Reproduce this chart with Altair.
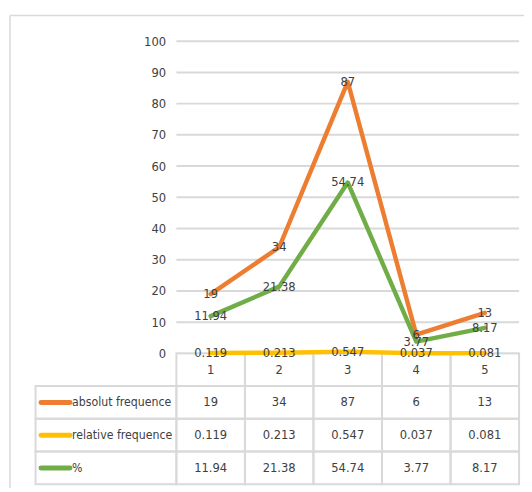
import altair as alt
import pandas as pd

# ---- data ----
categories = [1, 2, 3, 4, 5]
series_names = ["absolut frequence", "relative frequence", "%"]
absolut = [19, 34, 87, 6, 13]
relative = [0.119, 0.213, 0.547, 0.037, 0.081]
percent = [11.94, 21.38, 54.74, 3.77, 8.17]
y_ticks = [0, 10, 20, 30, 40, 50, 60, 70, 80, 90, 100]
colors = ["#ED7D31", "#FFC000", "#70AD47"]
row_names = ["header"] + series_names

FONT = "DejaVu Sans Condensed, Liberation Sans Narrow, sans-serif"
TXT = "#404040"
GRID = "#d9d9d9"
FS = 13
FS_LEG = 12.4

fmt = {
    "absolut frequence": lambda v: f"{v:d}",
    "relative frequence": lambda v: f"{v:.3f}",
    "%": lambda v: f"{v:.2f}",
}
rows = []
for name, vals in zip(series_names, [absolut, relative, percent]):
    for c, v in zip(categories, vals):
        rows.append({"cat": c, "series": name, "value": v, "label": fmt[name](v)})
long_df = pd.DataFrame(rows)

table_text = [{"cat": c, "row": "header", "label": str(c)} for c in categories]
table_text += [{"cat": r["cat"], "row": r["series"], "label": r["label"]} for r in rows]
table_text_df = pd.DataFrame(table_text)

cells_df = pd.DataFrame(
    [{"x0": c - 0.5, "x1": c + 0.5, "row": r} for r in row_names for c in categories]
)
legend_df = pd.DataFrame({"row": series_names})
ticks_df = pd.DataFrame({"v": y_ticks, "x0": [categories[0] - 0.5] * len(y_ticks),
                         "x1": [categories[-1] + 0.5] * len(y_ticks)})
one = pd.DataFrame({"k": [0]})

x_scale = alt.Scale(domain=[0.5, 5.5], range=[143, 491])
y_scale = alt.Scale(domain=[0, 100], range=[317, 0])
row_scale = alt.Scale(domain=row_names, range=[317, 450], paddingInner=0, paddingOuter=0)
color_scale = alt.Scale(domain=series_names, range=colors)

border_left = alt.Chart(one).mark_rule(color=GRID, strokeWidth=1.5).encode(
    x=alt.value(-26), y=alt.value(-26), y2=alt.value(460)
)
border_top = alt.Chart(one).mark_rule(color=GRID, strokeWidth=1.5).encode(
    x=alt.value(-26), x2=alt.value(500), y=alt.value(-26)
)

grid = alt.Chart(ticks_df).mark_rule(color=GRID, strokeWidth=2).encode(
    x=alt.X("x0:Q", scale=x_scale, axis=None),
    x2="x1:Q",
    y=alt.Y("v:Q", scale=y_scale, axis=None),
)

cells = alt.Chart(cells_df).mark_rect(filled=False, stroke=GRID, strokeWidth=2).encode(
    x=alt.X("x0:Q", scale=x_scale, axis=None),
    x2="x1:Q",
    y=alt.Y("row:N", scale=row_scale, axis=None),
)

legend_cells = alt.Chart(legend_df).mark_rect(filled=False, stroke=GRID, strokeWidth=2).encode(
    x=alt.value(0),
    x2=alt.value(143),
    y=alt.Y("row:N", scale=row_scale, axis=None),
)

swatches = alt.Chart(legend_df).mark_rule(strokeWidth=5, strokeCap="round").encode(
    x=alt.value(5.5),
    x2=alt.value(35),
    y=alt.Y("row:N", scale=row_scale, axis=None),
    color=alt.Color("row:N", scale=color_scale, legend=None),
)

swatch_labels = alt.Chart(legend_df).mark_text(
    font=FONT, fontSize=FS_LEG, color=TXT, align="left", baseline="middle"
).encode(
    x=alt.value(37),
    y=alt.Y("row:N", scale=row_scale, axis=None),
    text="row:N",
)

lines = alt.Chart(long_df).mark_line(strokeWidth=4.5, strokeJoin="round", strokeCap="round").encode(
    x=alt.X("cat:Q", scale=x_scale, axis=None),
    y=alt.Y(
        "value:Q",
        scale=y_scale,
        axis=alt.Axis(
            values=y_ticks, grid=False, domain=False, ticks=False, title=None,
            labelFont=FONT, labelFontSize=FS, labelColor=TXT,
            offset=-134, labelPadding=2,
        ),
    ),
    color=alt.Color("series:N", scale=color_scale, legend=None),
)

labels = alt.Chart(long_df).mark_text(
    font=FONT, fontSize=FS, color=TXT, align="center", baseline="middle"
).encode(
    x=alt.X("cat:Q", scale=x_scale, axis=None),
    y=alt.Y("value:Q", scale=y_scale, axis=None),
    text="label:N",
)

table_labels = alt.Chart(table_text_df).mark_text(
    font=FONT, fontSize=FS, color=TXT, align="center", baseline="middle"
).encode(
    x=alt.X("cat:Q", scale=x_scale, axis=None),
    y=alt.Y("row:N", scale=row_scale, axis=None),
    text="label:N",
)

chart = (
    alt.layer(border_left, border_top, grid, cells, legend_cells, lines, labels,
              table_labels, swatches, swatch_labels)
    .resolve_scale(y="independent")
    .properties(
        width=491,
        height=450,
        autosize=alt.AutoSizeParams(type="none"),
        padding={"left": 28, "top": 30, "right": 5, "bottom": 0},
        background="white",
    )
    .configure_view(strokeWidth=0)
)

chart.save("out.html", embed_options={"renderer": "svg", "actions": False})
